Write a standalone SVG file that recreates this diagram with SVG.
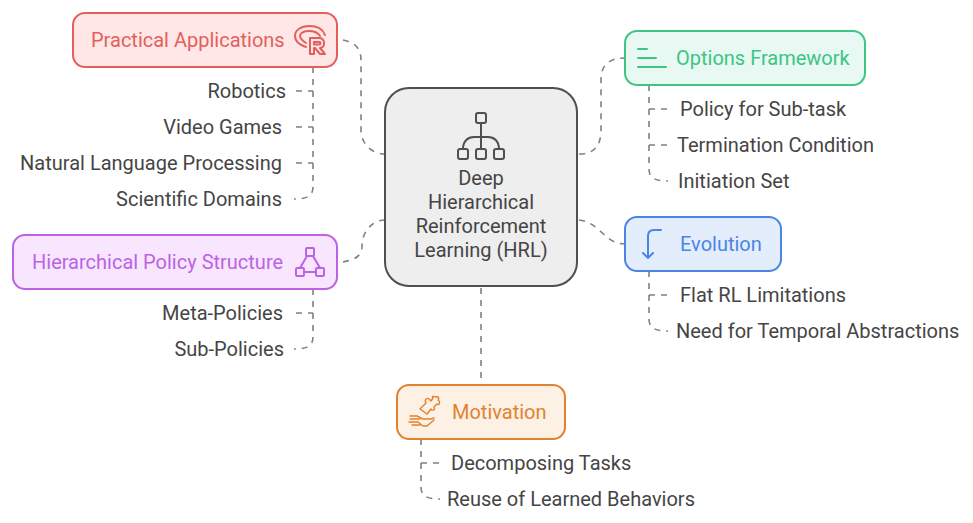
<svg xmlns="http://www.w3.org/2000/svg" width="973" height="523" viewBox="0 0 973 523">
<style>
text{font-family:"Roboto","Liberation Sans",sans-serif;font-size:20px;fill:#454545}
.e{text-anchor:end}.m{text-anchor:middle}
.c{fill:none;stroke:#808080;stroke-width:1.6;stroke-dasharray:6 6}
.i{fill:none;stroke-width:2;stroke-linecap:round;stroke-linejoin:round}
</style>
<rect width="973" height="523" fill="#fff"/>
<g id="connectors">
<path class="c" d="M343 40C352 42 361 46 361 60V130C361 144 372 154 385 154"/>
<path class="c" d="M579 154C594 154 601 146 601 130V80C601 64 610 58 625 58"/>
<path class="c" d="M343 262C352 260 362 258 362 246C362 232 372 220 385 220"/>
<path class="c" d="M579 220C600 222 604 244 625 244"/>
<path class="c" d="M481 288V385"/>
<path class="c" d="M313 67V187C313 196 307 199 294 199"/>
<path class="c" d="M296 91H313M296 127H313M296 163H313"/>
<path class="c" d="M313 289V337C313 346 307 349 294 349"/>
<path class="c" d="M296 313H313"/>
<path class="c" d="M649 85V169C649 178 655 181 668 181"/>
<path class="c" d="M649 109H667M649 145H667"/>
<path class="c" d="M649 271V319C649 328 655 331 668 331"/>
<path class="c" d="M649 295H667"/>
<path class="c" d="M421 439V487C421 496 427 499 440 499"/>
<path class="c" d="M421 463H439"/>
</g>
<g id="node-center">
<rect x="385" y="88" width="192" height="198" rx="24" fill="#eeeeee" stroke="#4f4f4f" stroke-width="2"/>
<g class="i" stroke="#4f4f4f"><rect x="476" y="113" width="10" height="10" rx="2"/><rect x="458" y="149" width="10" height="10" rx="2"/><rect x="476" y="149" width="10" height="10" rx="2"/><rect x="494" y="149" width="10" height="10" rx="2"/><path d="M481 123V149M463 149C463 141 468 137 474 137H488C494 137 499 141 499 149"/></g>
<text class="m" x="481" y="185">Deep</text>
<text class="m" x="481" y="209">Hierarchical</text>
<text class="m" x="481" y="233">Reinforcement</text>
<text class="m" x="481" y="257">Learning (HRL)</text>
</g>
<g id="node-practical">
<rect x="73" y="13" width="264" height="54" rx="12" fill="#fee7e6" stroke="#e35f5c" stroke-width="2"/>
<text x="91" y="47" style="fill:#e35f5c">Practical Applications</text>
<g class="i" stroke="#e35f5c" stroke-width="1.7"><path d="M306 47C300 45 295 41 295 36C295 30 301 26 309 26C317 26 323 29 325 35"/><path d="M306 43C303 41 300 39 300 36C300 33 304 31 309 31C314 31 318 33 320 36"/><path d="M310 54V38H319C325 38 326 47 320 48L325 54H320L315 48H314V54ZM314 42V44.500H319C321 44.500 321 42 319 42Z"/></g>
</g>
<g id="node-options">
<rect x="625" y="31" width="240" height="54" rx="12" fill="#e8f8f2" stroke="#3cc583" stroke-width="2"/>
<text x="676" y="65" style="fill:#3cc583">Options Framework</text>
<path class="i" stroke="#3cc583" d="M638 49H647M638 58H656M638 67H666"/>
</g>
<g id="node-hierarchical">
<rect x="13" y="235" width="324" height="54" rx="12" fill="#f7e6fd" stroke="#bd62e6" stroke-width="2"/>
<text x="32" y="269" style="fill:#bd62e6">Hierarchical Policy Structure</text>
<g class="i" stroke="#bd62e6"><rect x="306" y="248" width="8" height="8" rx="1"/><rect x="296" y="268" width="8" height="8" rx="1"/><rect x="316" y="268" width="8" height="8" rx="1"/><path d="M307 256L300 268M313 256L320 268M304 272H316"/></g>
</g>
<g id="node-evolution">
<rect x="625" y="217" width="156" height="54" rx="12" fill="#e4edfc" stroke="#4a85e6" stroke-width="2"/>
<text x="680" y="251" style="fill:#4a85e6">Evolution</text>
<path class="i" stroke="#4a85e6" d="M661 230H654C650 230 648 232 648 236V258M643 253L648 258L653 253"/>
</g>
<g id="node-motivation">
<rect x="397" y="385" width="168" height="54" rx="12" fill="#fdf0e5" stroke="#e0832f" stroke-width="2"/>
<text x="452" y="419" style="fill:#e0832f">Motivation</text>
<g stroke="#e0832f" fill="none" stroke-width="1.4" stroke-linejoin="round" stroke-linecap="round"><path d="M420 409L426 403C424 400 427 397 429 399L431 401L433 398C431 396 434 396 436 397C438 396 440 398 438 400C441 402 439 406 437 404L434 407C436 410 432 411 431 409L427 414Z"/><path d="M410 416H417L423 419H431L434 418"/><path d="M409 422H418L423 426H427L434 420M410 419H420M412 425H420"/></g>
</g>
<g id="leaves">
<text class="e" x="286" y="98">Robotics</text>
<text class="e" x="282" y="134">Video Games</text>
<text class="e" x="282" y="170">Natural Language Processing</text>
<text class="e" x="282" y="206">Scientific Domains</text>
<text class="e" x="283" y="320">Meta-Policies</text>
<text class="e" x="284" y="356">Sub-Policies</text>
<text x="680" y="116">Policy for Sub-task</text>
<text x="677" y="152">Termination Condition</text>
<text x="678" y="188">Initiation Set</text>
<text x="680" y="302">Flat RL Limitations</text>
<text x="676" y="338">Need for Temporal Abstractions</text>
<text x="451" y="470">Decomposing Tasks</text>
<text x="447" y="506">Reuse of Learned Behaviors</text>
</g>
</svg>
